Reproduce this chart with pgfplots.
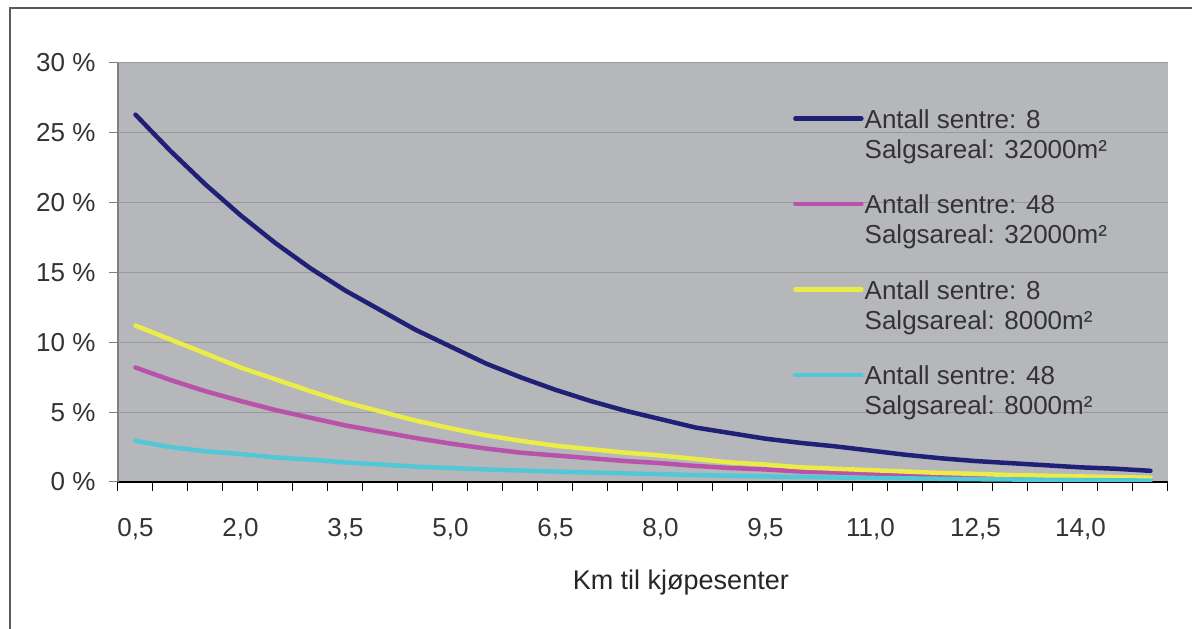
\documentclass[border=0pt]{standalone}
\usepackage{fontspec}
\setmainfont{Liberation Sans}
\usepackage{pgfplots}
\pgfplotsset{compat=1.18}
\usepackage{pgfplotstable}
\definecolor{navyline}{RGB}{32,32,118}
\definecolor{magline}{RGB}{185,82,170}
\definecolor{yelline}{RGB}{236,236,72}
\definecolor{cyanline}{RGB}{82,200,214}
\definecolor{plotbg}{RGB}{181,183,187}
\definecolor{gridc}{RGB}{152,153,156}
\definecolor{framec}{RGB}{90,90,90}

% x index: 0 = 0.5 km, 1 = 1.0 km, ..., 29 = 15.0 km
\pgfplotstableread{
i  a     b     c     d
0  26.3  8.2   11.2  2.95
1  23.7  7.3   10.2  2.50
2  21.3  6.5   9.2   2.20
3  19.1  5.8   8.2   2.00
4  17.1  5.15  7.35  1.76
5  15.3  4.6   6.5   1.60
6  13.7  4.05  5.7   1.40
7  12.3  3.6   5.05  1.25
8  10.9  3.15  4.4   1.10
9  9.7   2.75  3.85  1.00
10 8.5   2.4   3.35  0.90
11 7.5   2.1   2.95  0.82
12 6.6   1.9   2.6   0.75
13 5.8   1.7   2.35  0.68
14 5.1   1.5   2.1   0.62
15 4.5   1.35  1.9   0.56
16 3.9   1.15  1.65  0.50
17 3.5   1.0   1.4   0.45
18 3.1   0.9   1.25  0.40
19 2.8   0.75  1.05  0.36
20 2.55  0.68  0.95  0.32
21 2.25  0.6   0.85  0.29
22 1.95  0.52  0.75  0.26
23 1.7   0.46  0.65  0.23
24 1.5   0.4   0.58  0.20
25 1.35  0.35  0.5   0.18
26 1.2   0.31  0.45  0.16
27 1.05  0.27  0.4   0.14
28 0.95  0.24  0.35  0.12
29 0.8   0.2   0.3   0.10
}\datatable

\begin{document}
\begin{tikzpicture}
\path[use as bounding box] (0pt,0pt) rectangle (1192pt,629pt);
\draw[framec, line width=1.5pt] (10pt,0pt) -- (10pt,621pt) -- (1192pt,621pt);
\begin{axis}[
  at={(118pt,147pt)}, anchor=south west,
  width=1050pt, height=419pt, scale only axis,
  axis background/.style={fill=plotbg},
  axis lines*=left,
  x axis line style={black, line width=1.2pt},
  y axis line style={gray, line width=1.6pt},
  xmin=-0.5, xmax=29.5, ymin=0, ymax=30,
  xtick={-0.5,0.5,...,29.5}, xticklabels={},
  extra x ticks={0,3,...,27},
  extra x tick labels={{0,5},{2,0},{3,5},{5,0},{6,5},{8,0},{9,5},{11,0},{12,5},{14,0}},
  extra x tick style={major tick length=0pt, grid=none},
  ytick={0,5,...,30},
  yticklabels={0 \%,5 \%,10 \%,15 \%,20 \%,25 \%,30 \%},
  tick align=outside, major tick length=9pt,
  x tick style={black, line width=1pt},
  y tick style={gray, line width=1pt},
  ymajorgrids, grid style={gridc, line width=1pt},
  tick label style={font=\fontsize{26}{30}\selectfont, text=black!80},
  xticklabel style={yshift=-33pt},
  yticklabel style={xshift=-10pt},
  xlabel={Km til kjøpesenter},
  xlabel style={font=\fontsize{27}{30}\selectfont, text=black!85, at={(axis description cs:0.536,-0.239)}, anchor=center},
  legend style={at={(axis description cs:0.64,0.902)}, anchor=north west, draw=none, fill=none,
    font=\fontsize{26}{30}\selectfont, text=black!80, row sep=31pt,
    nodes={inner sep=1pt}},
  legend cell align=left,
  legend image code/.code={\draw[#1] (0pt,15pt) -- (66pt,15pt);},
  every axis plot/.append style={line width=4.5pt, line join=round, line cap=round},
]
\addplot[navyline] table[x=i,y=a] {\datatable};
\addlegendentry{\begin{tabular}[b]{@{}l@{}}Antall sentre: 8\\Salgsareal: 32000m²\end{tabular}}
\addplot[magline] table[x=i,y=b] {\datatable};
\addlegendentry{\begin{tabular}[b]{@{}l@{}}Antall sentre: 48\\Salgsareal: 32000m²\end{tabular}}
\addplot[yelline] table[x=i,y=c] {\datatable};
\addlegendentry{\begin{tabular}[b]{@{}l@{}}Antall sentre: 8\\Salgsareal: 8000m²\end{tabular}}
\addplot[cyanline] table[x=i,y=d] {\datatable};
\addlegendentry{\begin{tabular}[b]{@{}l@{}}Antall sentre: 48\\Salgsareal: 8000m²\end{tabular}}
\end{axis}
\end{tikzpicture}
\end{document}
